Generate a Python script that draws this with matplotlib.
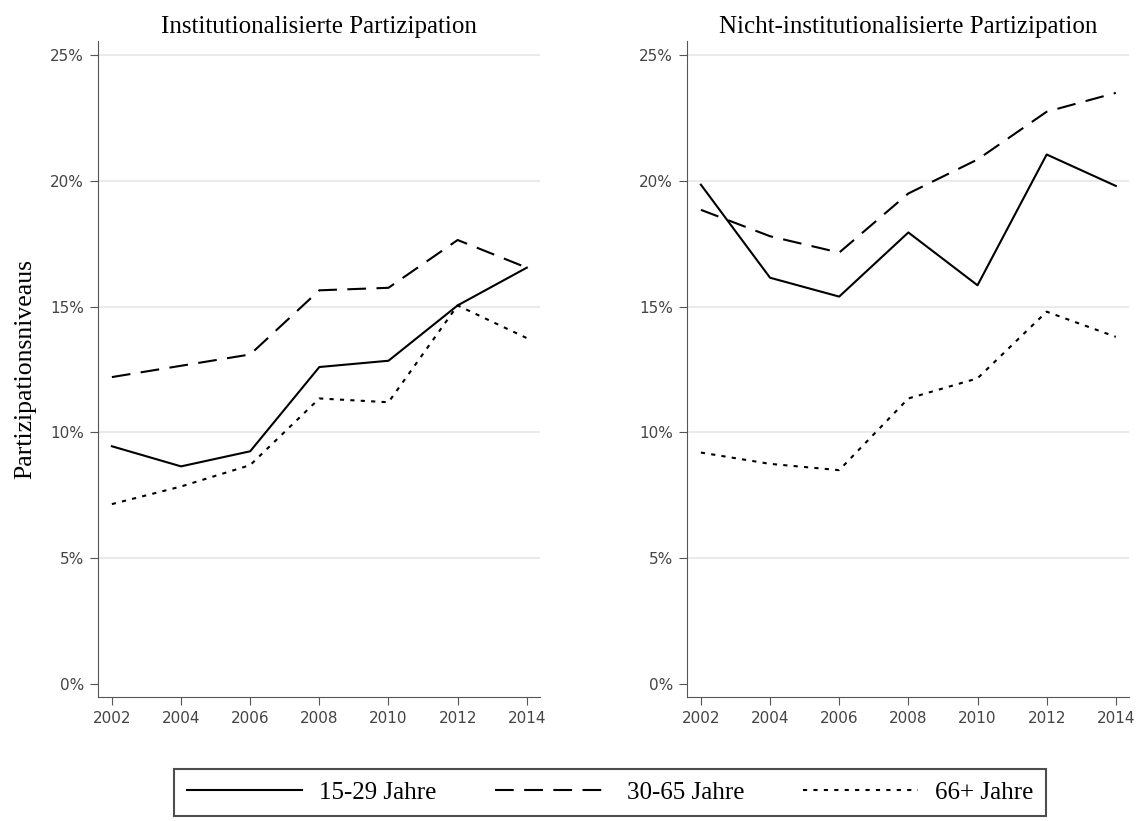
import matplotlib
matplotlib.use("Agg")
import matplotlib.pyplot as plt
from matplotlib.ticker import FuncFormatter

years = [2002, 2004, 2006, 2008, 2010, 2012, 2014]
titles = ["Institutionalisierte Partizipation", "Nicht-institutionalisierte Partizipation"]
labels = ["15-29 Jahre", "30-65 Jahre", "66+ Jahre"]

# Institutionalisierte Partizipation (%)
inst_15_29 = [9.45, 8.65, 9.25, 12.6, 12.85, 15.05, 16.55]
inst_30_65 = [12.2, 12.65, 13.1, 15.65, 15.75, 17.65, 16.55]
inst_66 = [7.15, 7.85, 8.7, 11.35, 11.2, 15.05, 13.75]

# Nicht-institutionalisierte Partizipation (%)
nicht_15_29 = [19.85, 16.15, 15.4, 17.95, 15.85, 21.05, 19.8]
nicht_30_65 = [18.85, 17.8, 17.15, 19.5, 20.85, 22.75, 23.5]
nicht_66 = [9.2, 8.75, 8.5, 11.35, 12.15, 14.8, 13.8]

styles = [dict(linestyle="-"),
          dict(linestyle=(0, (9, 5))),
          dict(linestyle=(0, (2, 3)))]

serif = ["Liberation Serif", "DejaVu Serif"]
grey = "#555555"

fig = plt.figure(figsize=(11.36, 8.21), dpi=100)
ax1 = fig.add_axes([0.0863, 0.151, 0.389, 0.799])
ax2 = fig.add_axes([0.6048, 0.151, 0.389, 0.799])

data = [[inst_15_29, inst_30_65, inst_66], [nicht_15_29, nicht_30_65, nicht_66]]

for ax, title, series in zip([ax1, ax2], titles, data):
    lines = []
    for vals, st, lab in zip(series, styles, labels):
        ln, = ax.plot(years, vals, color="black", linewidth=1.5, label=lab, **st)
        lines.append(ln)
    ax.set_xlim(2001.6, 2014.38)
    ax.set_ylim(-0.52, 25.56)
    ax.set_xticks(years)
    ax.set_yticks([0, 5, 10, 15, 20, 25])
    ax.yaxis.set_major_formatter(FuncFormatter(lambda v, p: "%d%%" % v))
    for v in [5, 10, 15, 20, 25]:
        ax.axhline(v, color="#e6e6e6", linewidth=1.2, zorder=0)
    ax.spines["top"].set_visible(False)
    ax.spines["right"].set_visible(False)
    ax.spines["left"].set_color(grey)
    ax.spines["bottom"].set_color(grey)
    ax.tick_params(colors=grey, labelcolor="#444444", labelsize=11, length=6, pad=4)
    ax.set_title(title, family=serif, fontsize=18, pad=6)

ax1.set_ylabel("Partizipationsniveaus", family=serif, fontsize=18.5, labelpad=10)

leg = fig.legend(lines, labels, loc="center", bbox_to_anchor=(0.537, 0.035),
                 ncol=3, prop={"family": serif, "size": 18},
                 handlelength=4.6, handletextpad=0.68, columnspacing=2.35,
                 borderpad=0.5, borderaxespad=0, frameon=True, fancybox=False)
leg.get_frame().set_edgecolor("#222222")
leg.get_frame().set_linewidth(1.5)

fig.savefig("out.png", dpi=100)
